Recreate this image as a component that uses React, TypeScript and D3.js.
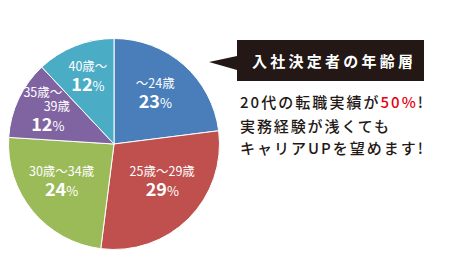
import React from "react";
import * as d3 from "d3";

const categories = ["～24歳", "25歳～29歳", "30歳～34歳", "35歳～39歳", "40歳～"];
const values = [23, 29, 24, 12, 12];
const colors = ["#4a7ebb", "#c0504d", "#9bbb59", "#8064a2", "#4bacc6"];
const labelLines = [["～24歳"], ["25歳～29歳"], ["30歳～34歳"], ["35歳～", "39歳"], ["40歳～"]];
const title = "入社決定者の年齢層";

const FONT = "'Noto Sans CJK JP', 'Noto Sans', sans-serif";

// per-slice label layout: shift of block from arc centroid, per-line x offsets
const blockShift: [number, number][] = [[-2, -1], [2, -8], [-2, -4], [-6, -6], [-2, -6]];
const lineDx: number[][] = [[0], [0], [0], [-6, 8], [0]];
const numDx = [0, 0, 0, -1, 0];

export default function App() {
  const cx = 114, cy = 144, r = 105.5;
  const pie = d3.pie<number>().sort(null).value(d => d)(values);
  const arc = d3.arc<d3.PieArcDatum<number>>().innerRadius(0).outerRadius(r);
  const labelArc = d3.arc<d3.PieArcDatum<number>>().innerRadius(r * 0.62).outerRadius(r * 0.62);

  return (
    <svg width={450} height={260} style={{ display: "block", position: "absolute", left: 0, top: 0 }}>
      <rect width={450} height={260} fill="#fff" />
      <g transform={`translate(${cx},${cy})`}>
        {pie.map((p, i) => (
          <path key={i} d={arc(p) || ""} fill={colors[i]} stroke="#fff" strokeWidth={1} />
        ))}
        {pie.map((p, i) => {
          const [x0, y0] = labelArc.centroid(p);
          const x = x0 + blockShift[i][0];
          const y = y0 + blockShift[i][1];
          const lines = labelLines[i];
          const lh = 14;
          const blockH = lines.length * lh + 20;
          const top = y - blockH / 2;
          return (
            <g key={"l" + i} fill="#fff" fontFamily={FONT}>
              {lines.map((t, j) => (
                <text key={j} x={x + lineDx[i][j]} y={top + j * lh + 11} textAnchor="middle" fontSize={12.5}>
                  {t}
                </text>
              ))}
              <text x={x + numDx[i]} y={top + lines.length * lh + 17} textAnchor="middle" fontWeight="bold" fontSize={18}>
                {values[i]}
                <tspan fontSize={13} fontWeight="normal">%</tspan>
              </text>
            </g>
          );
        })}
      </g>
      <path d="M209,62 L237,56 L237,70 Z" fill="#231815" />
      <rect x={237} y={40} width={187} height={41} fill="#231815" />
      <text x={252} y={67} fontFamily={FONT} fontWeight="bold" fontSize={15} fill="#fff" textLength={161} lengthAdjust="spacing">
        {title}
      </text>
      <g fontFamily={FONT} fontSize={15} fill="#231815" fontWeight={500}>
        <text x={240} y={108} textLength={183} lengthAdjust="spacing">
          20代の転職実績が<tspan fill="#e60012">50%</tspan>!
        </text>
        <text x={240} y={132} textLength={149} lengthAdjust="spacing">実務経験が浅くても</text>
        <text x={240} y={154} textLength={183} lengthAdjust="spacing">キャリアUPを望めます!</text>
      </g>
    </svg>
  );
}
